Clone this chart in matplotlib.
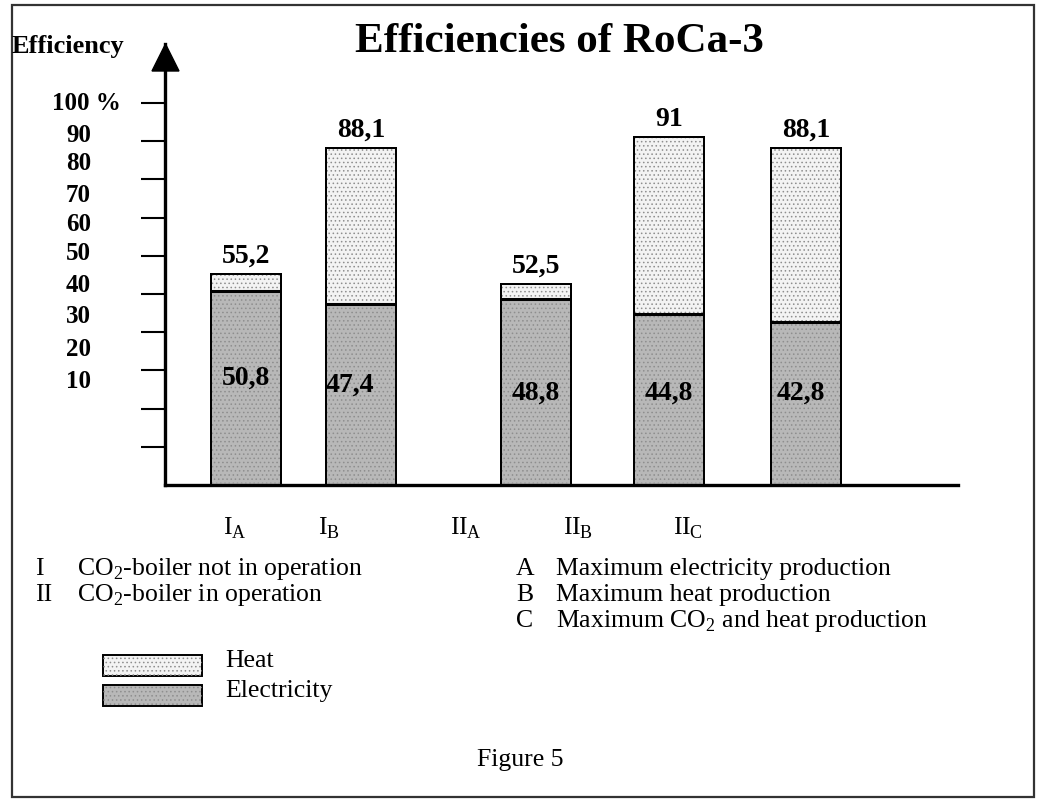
import matplotlib
matplotlib.use("Agg")
import matplotlib.pyplot as plt
from matplotlib.patches import Rectangle, Polygon

plt.rcParams["font.family"] = ["Liberation Serif", "DejaVu Serif"]
plt.rcParams["mathtext.fontset"] = "custom"
plt.rcParams["mathtext.rm"] = "Liberation Serif"
plt.rcParams["hatch.linewidth"] = 0.6

# data
CASES = ["I$_\\mathrm{A}$", "I$_\\mathrm{B}$", "II$_\\mathrm{A}$", "II$_\\mathrm{B}$", "II$_\\mathrm{C}$"]
ELECTRICITY = [50.8, 47.4, 48.8, 44.8, 42.8]
TOTAL = [55.2, 88.1, 52.5, 91.0, 88.1]
Y_TICKS = [10, 20, 30, 40, 50, 60, 70, 80, 90, 100]
Y_TICK_TEXT = ["10", "20", "30", "40", "50", "60", "70", "80", "90", "100 %"]

# layout (pixels of the 1037x799 canvas)
W, H = 1037, 799
AX_LEFT, AX_RIGHT = 165, 958
BAR_POS = [81, 196, 371, 504, 641]          # bar centres, px from y axis
BAR_W = 70
TICK_TEXT_Y = [27.2, 35.6, 44.0, 52.1, 60.5, 68.3, 75.9, 84.2, 91.6, 100]
ELEC_TEXT_Y = [28.0, 26.2, 24.1, 24.1, 24.1]
ELEC_TEXT_DX = [0, -11, 0, 0, -5]
CASE_X = [223, 318, 450, 563, 673]

ELEC_COLOR = "#b8b8b8"
HEAT_COLOR = "#f3f3f3"
DOT_COLOR = "#8e8e8e"

NUM_FS = 20      # bold value labels
TICK_FS = 18
TEXT_FS = 18.5   # plain notes below the chart


def fx(x):
    return x / W


def fy(y):
    return 1 - y / H


def ax_x(px):
    # canvas pixel -> axes fraction along x
    return (px - AX_LEFT) / (AX_RIGHT - AX_LEFT)


def fmt(v):
    return f"{v:g}".replace(".", ",")


fig = plt.figure(figsize=(W / 100, H / 100), dpi=100)

# outer frame
fig.patches.append(Rectangle((fx(12), fy(797)), fx(1022), 792 / H, fill=False,
                             lw=1.6, edgecolor="#333333", transform=fig.transFigure))

ax = fig.add_axes([fx(AX_LEFT), fy(485), fx(AX_RIGHT - AX_LEFT), 441 / H])
ax.set_xlim(0, AX_RIGHT - AX_LEFT)
ax.set_ylim(0, 441 / 3.82)
ax.patch.set_alpha(0)
for side in ["top", "right"]:
    ax.spines[side].set_visible(False)
ax.spines["left"].set_linewidth(2.4)
ax.spines["bottom"].set_linewidth(2.4)
ax.set_xticks([])
ax.set_yticks(Y_TICKS)
ax.tick_params(axis="y", length=17.5, width=1.5, labelleft=False, direction="out")

heat = [t - e for t, e in zip(TOTAL, ELECTRICITY)]
ax.bar(BAR_POS, ELECTRICITY, width=BAR_W, color=ELEC_COLOR, edgecolor="black", lw=1.4, zorder=2)
ax.bar(BAR_POS, heat, bottom=ELECTRICITY, width=BAR_W, color=HEAT_COLOR,
       edgecolor="black", lw=1.4, zorder=2)
ax.bar(BAR_POS, TOTAL, width=BAR_W, fill=False, hatch="....", edgecolor=DOT_COLOR, lw=0, zorder=3)
ax.bar(BAR_POS, TOTAL, width=BAR_W, fill=False, edgecolor="black", lw=1.4, zorder=4)
ax.hlines(ELECTRICITY, [p - BAR_W / 2 for p in BAR_POS], [p + BAR_W / 2 for p in BAR_POS],
          color="black", lw=2.2, zorder=5)

for p, t in zip(BAR_POS, TOTAL):
    ax.text(p, t + 3, fmt(t), ha="center", va="baseline", fontsize=NUM_FS, fontweight="bold")
for p, e, ty, dx in zip(BAR_POS, ELECTRICITY, ELEC_TEXT_Y, ELEC_TEXT_DX):
    ax.text(p + dx, ty, fmt(e), ha="center", va="center", fontsize=NUM_FS,
            fontweight="bold", zorder=6)

ytrans = ax.get_yaxis_transform()
for ty, lab in zip(TICK_TEXT_Y, Y_TICK_TEXT):
    if lab.endswith("%"):
        ax.text(ax_x(52), ty, lab, transform=ytrans, ha="left", va="center",
                fontsize=TICK_FS, fontweight="bold")
    else:
        ax.text(ax_x(91), ty, lab, transform=ytrans, ha="right", va="center",
                fontsize=TICK_FS, fontweight="bold")

# axis arrow head
fig.patches.append(Polygon([(fx(152), fy(71)), (fx(179), fy(71)), (fx(165.5), fy(44))],
                           closed=True, color="black", transform=fig.transFigure))

fig.text(fx(12), fy(46), "Efficiency", ha="left", va="center", fontsize=19, fontweight="bold")
fig.text(fx(559), fy(42), "Efficiencies of RoCa-3", ha="center", va="center",
         fontsize=31, fontweight="bold")

for x, lab in zip(CASE_X, CASES):
    fig.text(fx(x), fy(528), lab, ha="left", va="center", fontsize=TEXT_FS)

notes_left = [("I", "CO$_2$-boiler not in operation", 569), ("II", "CO$_2$-boiler in operation", 595)]
for key, txt, y in notes_left:
    fig.text(fx(35), fy(y), key, ha="left", va="center", fontsize=TEXT_FS)
    fig.text(fx(77), fy(y), txt, ha="left", va="center", fontsize=TEXT_FS)

notes_right = [("A", "Maximum electricity production", 569),
               ("B", "Maximum heat production", 595),
               ("C", "Maximum CO$_2$ and heat production", 621)]
for key, txt, y in notes_right:
    fig.text(fx(516), fy(y), key, ha="left", va="center", fontsize=TEXT_FS)
    fig.text(fx(556), fy(y), txt, ha="left", va="center", fontsize=TEXT_FS)

# legend boxes
for y0, col, lab in [(655, HEAT_COLOR, "Heat"), (685, ELEC_COLOR, "Electricity")]:
    fig.patches.append(Rectangle((fx(103), fy(y0 + 21)), fx(99), 21 / H, facecolor=col,
                                 edgecolor="black", lw=1.4, transform=fig.transFigure))
    fig.patches.append(Rectangle((fx(103), fy(y0 + 21)), fx(99), 21 / H, fill=False, hatch="....",
                                 edgecolor=DOT_COLOR, lw=0, transform=fig.transFigure))
    fig.text(fx(225), fy(y0 + 6), lab, ha="left", va="center", fontsize=TEXT_FS)

fig.text(fx(520), fy(760), "Figure 5", ha="center", va="center", fontsize=TEXT_FS)

fig.savefig("out.png", dpi=100)
